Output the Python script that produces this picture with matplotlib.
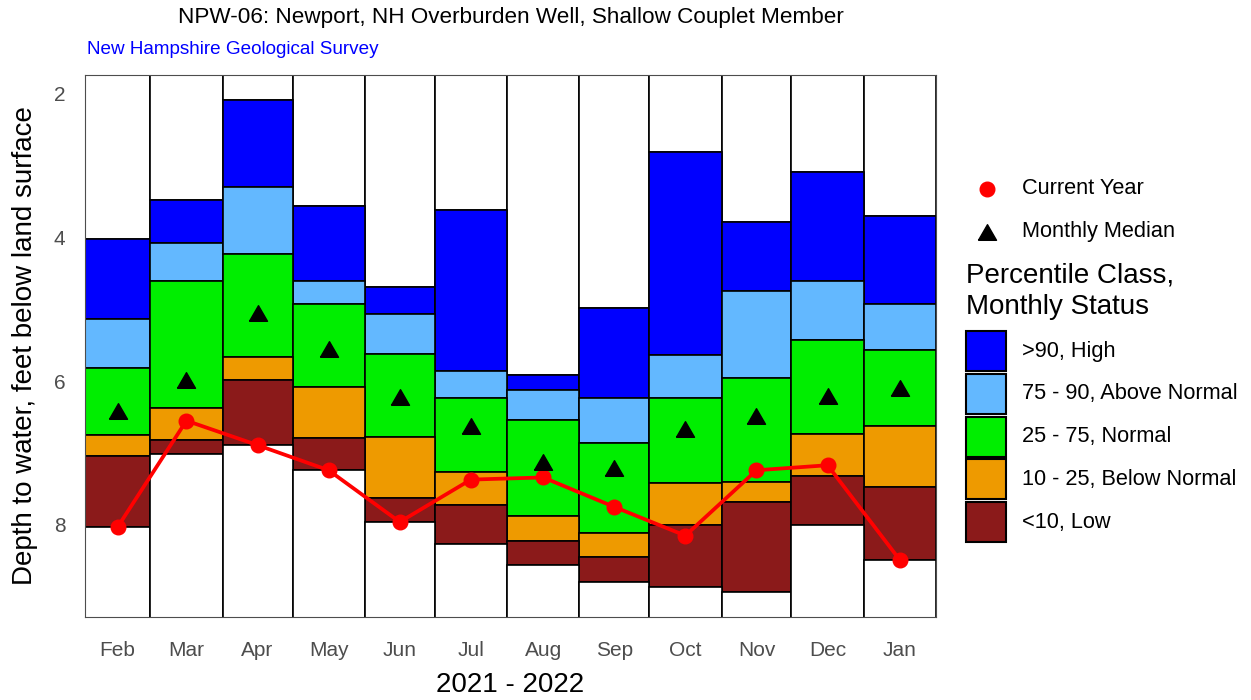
import numpy as np
import matplotlib
matplotlib.use('Agg')
import matplotlib.pyplot as plt
import matplotlib.dates as mdates
from matplotlib.patches import Rectangle

plt.rcParams['font.family'] = ['Liberation Sans', 'DejaVu Sans']

# ---------------- data ----------------
months = ['Feb', 'Mar', 'Apr', 'May', 'Jun', 'Jul', 'Aug', 'Sep', 'Oct', 'Nov', 'Dec', 'Jan']
depth_max = [4.02, 3.48, 2.08, 3.56, 4.69, 3.62, 5.91, 4.98, 2.81, 3.79, 3.09, 3.70]   # shallowest
p90 = [5.13, 4.08, 3.30, 4.60, 5.06, 5.86, 6.12, 6.23, 5.64, 4.75, 4.60, 4.93]
p75 = [5.82, 4.60, 4.23, 4.92, 5.62, 6.23, 6.54, 6.86, 6.24, 5.96, 5.42, 5.56]
p25 = [6.75, 6.38, 5.66, 6.08, 6.77, 7.27, 7.88, 8.12, 7.42, 7.40, 6.74, 6.62]
p10 = [7.04, 6.82, 5.99, 6.79, 7.63, 7.72, 8.22, 8.45, 8.00, 7.68, 7.32, 7.48]
depth_min = [8.03, 7.02, 6.89, 7.24, 7.96, 8.27, 8.56, 8.79, 8.87, 8.94, 8.00, 8.49]  # deepest
median = [6.41, 5.98, 5.05, 5.55, 6.22, 6.63, 7.13, 7.21, 6.67, 6.48, 6.20, 6.10]
current = [8.03, 6.55, 6.89, 7.24, 7.96, 7.37, 7.34, 7.75, 8.15, 7.24, 7.17, 8.49]

class_labels = ['>90, High', '75 - 90, Above Normal', '25 - 75, Normal',
                '10 - 25, Below Normal', '<10, Low']
class_colors = ['#0000FF', '#63B8FF', '#00EE00', '#EE9A00', '#8B1A1A']
y_ticks = [2, 4, 6, 8]

title = 'NPW-06: Newport, NH Overburden Well, Shallow Couplet Member'
subtitle = 'New Hampshire Geological Survey'
x_title = '2021 - 2022'
y_title = 'Depth to water, feet below land surface'

# ---------------- geometry from data ----------------
month_edges = np.arange(np.datetime64('2021-02'), np.datetime64('2022-03'),
                        dtype='datetime64[M]').astype('datetime64[D]')
edges = mdates.date2num(month_edges)
widths = np.diff(edges)
centers = edges[:-1] + widths / 2

lo = min(depth_max)
hi = max(depth_min)
rng = hi - lo
ylim_top = lo - 0.05 * rng
ylim_bot = hi + 0.05 * rng

tri = [(-1.0, -0.866), (1.0, -0.866), (0.0, 0.866), (-1.0, -0.866)]

W, H = 1251, 700
fig = plt.figure(figsize=(W / 100, H / 100), dpi=100)
ax = fig.add_axes([85 / W, (H - 617) / H, 851 / W, 542 / H])

arrs = [np.array(a) for a in (depth_max, p90, p75, p25, p10, depth_min)]
top_white = np.full(len(months), ylim_top - 1.0)
bot_white = np.full(len(months), ylim_bot + 1.0)
bounds = [top_white] + arrs + [bot_white]
seg_colors = ['white'] + class_colors + ['white']
for k in range(len(bounds) - 1):
    b0 = bounds[k]
    b1 = bounds[k + 1]
    ax.bar(edges[:-1], b1 - b0, bottom=b0, width=widths, align='edge',
           color=seg_colors[k], edgecolor='black', linewidth=1.2, zorder=1)

ax.plot(centers, current, color='#FF0000', lw=2.7, marker='o', ms=10.5,
        zorder=4, solid_capstyle='round')
ax.plot(centers, median, linestyle='none', marker=tri, ms=13, color='black',
        zorder=4)

ax.set_xlim(edges[0], edges[-1])
ax.set_ylim(ylim_bot, ylim_top)
ax.set_xticks(centers)
ax.set_xticklabels(months)
ax.set_yticks(y_ticks)
ax.tick_params(axis='x', length=0, pad=17, labelsize=15, labelcolor='#4D4D4D')
ax.tick_params(axis='y', length=0, pad=14, labelsize=15, labelcolor='#4D4D4D')
for sp in ax.spines.values():
    sp.set_color('#4D4D4D')
    sp.set_linewidth(0.8)
    sp.set_zorder(5)

ax.set_xlabel(x_title, fontsize=20)
ax.xaxis.set_label_coords(0.5, (617 - 685) / 542)
ax.xaxis.label.set_va('center')
ax.set_ylabel(y_title, fontsize=20)
ax.yaxis.set_label_coords((25 - 85) / 851, 0.5)
ax.yaxis.label.set_va('center')
ax.yaxis.label.set_ha('center')

fig.text(510.5 / W, 1 - 17 / H, title, fontsize=16.2, ha='center', va='center')
fig.text(87 / W, 1 - 50 / H, subtitle, fontsize=13.6, color='#0000FF',
         ha='left', va='center')

# ---------------- legend (drawn in pixel space) ----------------
lax = fig.add_axes([0, 0, 1, 1], zorder=10)
lax.set_xlim(0, W)
lax.set_ylim(H, 0)
lax.axis('off')
lax.plot([987], [189], marker='o', ms=10.5, color='#FF0000', linestyle='none')
lax.text(1022, 189, 'Current Year', fontsize=15.7, va='center', ha='left')
lax.plot([987], [232], marker=tri, ms=13, color='black', linestyle='none')
lax.text(1022, 232, 'Monthly Median', fontsize=15.7, va='center', ha='left')
lax.text(966, 276, 'Percentile Class,', fontsize=20, va='center', ha='left')
lax.text(966, 307, 'Monthly Status', fontsize=20, va='center', ha='left')
for i, (lab, col) in enumerate(zip(class_labels, class_colors)):
    yc = 351 + i * 42.8
    lax.add_patch(Rectangle((966, yc - 20), 40, 40, facecolor=col,
                            edgecolor='black', linewidth=1.5))
    lax.text(1022, yc, lab, fontsize=15.7, va='center', ha='left')

fig.savefig('out.png', dpi=100, facecolor='white')
